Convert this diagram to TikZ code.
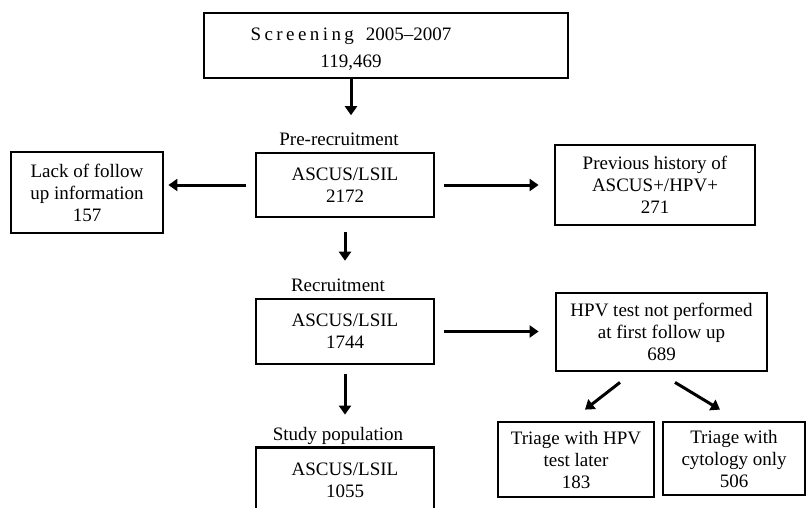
\documentclass[tikz,border=0pt]{standalone}
\usepackage{fontspec}
\setmainfont{Liberation Serif}
\newfontfamily\spacedfont[LetterSpace=18]{Liberation Serif}
\usetikzlibrary{arrows.meta,positioning}
\tikzset{>={Triangle[length=9pt,width=12pt]}}
\tikzset{box/.style={shape=rectangle, draw, line width=2.8pt, align=center, inner sep=0pt}}
\tikzset{flow/.style={line width=3pt}}
\tikzset{every node/.style={font=\fontsize{19}{22}\selectfont}}

\begin{document}
\begin{tikzpicture}[x=1pt, y=-1pt]
  \useasboundingbox (0,0) rectangle (808,508);

    %%%% Screening
    \node[box, minimum width=364pt, minimum height=65pt](scr) at (386,45.5)   {};
    \node[align=center](scrtext) at (351,49)   {{\spacedfont Screening}\hspace{12pt}2005\textendash2007\\[5pt]119,469};

    %%%% Pre-recruitment
    \node[anchor=base, inner sep=0pt](prelab) at (339,145.5)   {Pre-recruitment};
    \node[box, minimum width=178pt, minimum height=64pt](pre) at (345,185)   {ASCUS/LSIL\\2172};
    \node[box, minimum width=152pt, minimum height=81pt](lack) at (87,192.5)   {Lack of follow\\up information\\157};
    \node[box, minimum width=200pt, minimum height=80pt](prev) at (655,185)   {Previous history of\\ASCUS+/HPV+\\271};

    %%%% Recruitment
    \node[anchor=base, inner sep=0pt](reclab) at (338,291.5)   {Recruitment};
    \node[box, minimum width=178pt, minimum height=65pt](rec) at (345,331.5)   {ASCUS/LSIL\\1744};
    \node[box, minimum width=211pt, minimum height=78pt](hpv) at (661.5,332)   {HPV test not performed\\at first follow up\\689};
    \node[box, minimum width=156pt, minimum height=75pt](trhpv) at (576,459.5)   {Triage with HPV\\test later\\183};
    \node[box, minimum width=142pt, minimum height=73pt](trcyt) at (734,458.5)   {Triage with\\cytology only\\506};

    %%%% Study population
    \node[anchor=base, inner sep=0pt](studylab) at (338,440)   {Study population};
    \node[box, minimum width=178pt, minimum height=65pt](study) at (345,480)   {ASCUS/LSIL\\1055};

    %%%% Arrows down
    \draw [->][flow, shorten >=17.5pt] (scr.south -| scrtext) to (prelab.north -| scrtext);
    \draw [->][flow, shorten <=14pt, shorten >=18pt] (pre.south) to (reclab.north -| pre.south);
    \draw [->][flow, shorten <=9pt, shorten >=12pt] (rec.south) to (studylab.north -| rec.south);

    %%%% Arrows sideways
    \draw [->][flow, shorten <=9pt, shorten >=4pt] (pre.west) to (pre.west -| lack.east);
    \draw [->][flow, shorten <=9pt, shorten >=15pt] (pre.east) to (pre.east -| prev.west);
    \draw [->][flow, shorten <=9pt, shorten >=16pt] (rec.east) to (rec.east -| hpv.west);

    %%%% Triage split
    \draw [->][flow] ([xshift=-41.5pt, yshift=-10pt]hpv.south) to ([xshift=9pt, yshift=11pt]trhpv.north);
    \draw [->][flow] ([xshift=13.5pt, yshift=-10pt]hpv.south) to ([xshift=-14pt, yshift=11pt]trcyt.north);

\end{tikzpicture}
\end{document}
